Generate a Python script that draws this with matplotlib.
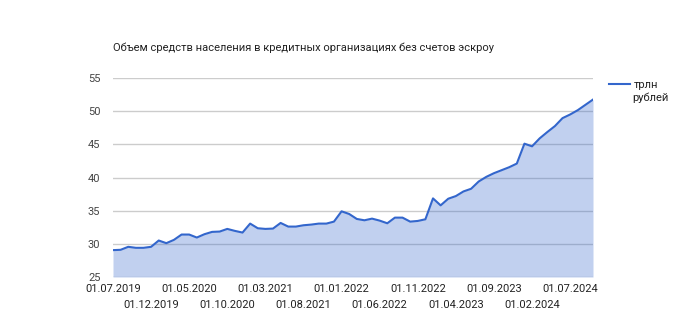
import matplotlib.pyplot as plt
from matplotlib.lines import Line2D

plt.rcParams['font.family'] = ['Roboto', 'DejaVu Sans']

# monthly values, 01.07.2019 .. 01.10.2024 (трлн рублей)
values = [29.05, 29.1, 29.55, 29.4, 29.4, 29.55, 30.5, 30.1, 30.6, 31.4,
          31.4, 30.95, 31.45, 31.8, 31.85, 32.25, 31.95, 31.7, 33.05, 32.35,
          32.25, 32.3, 33.15, 32.6, 32.6, 32.8, 32.9, 33.05, 33.05, 33.35,
          34.9, 34.5, 33.75, 33.55, 33.8, 33.5, 33.1, 33.95, 33.95, 33.35,
          33.45, 33.7, 36.85, 35.8, 36.8, 37.2, 37.9, 38.3, 39.4, 40.1,
          40.65, 41.1, 41.55, 42.1, 45.1, 44.7, 45.9, 46.85, 47.75, 48.95,
          49.5, 50.15, 50.95, 51.75]

dates = []
for i in range(len(values)):
    m = 7 + i
    y = 2019 + (m - 1) // 12
    m = (m - 1) % 12 + 1
    dates.append("01.%02d.%d" % (m, y))

yticks = [25, 30, 35, 40, 45, 50, 55]
title = "Объем средств населения в кредитных организациях без счетов эскроу"
line_c = '#3366cc'

fig = plt.figure(figsize=(7, 3.3), dpi=100)
ax = fig.add_axes([113/700, 1-277/330, 480/700, 199/330])

x = list(range(len(values)))
ax.fill_between(x, values, 25, color=line_c, alpha=0.3, lw=0, zorder=2)
ax.plot(x, values, color=line_c, lw=1.5, zorder=3)

ax.set_xlim(0, len(values) - 1)
ax.set_ylim(25, 55)
ax.set_yticks(yticks)
ax.set_yticklabels([str(v) for v in yticks])
ax.grid(axis='y', color='#cccccc', lw=1, zorder=1)
ax.set_axisbelow(True)

major = x[0::10]
minor = x[5::10]
ax.set_xticks(major)
ax.set_xticklabels([dates[i] for i in major])
ax.set_xticks(minor, minor=True)
ax.set_xticklabels([dates[i] for i in minor], minor=True)
ax.tick_params(axis='x', which='major', length=0, pad=5, labelsize=8, labelcolor='#222222')
ax.tick_params(axis='x', which='minor', length=0, pad=16.5, labelsize=8, labelcolor='#222222')
ax.tick_params(axis='y', length=0, pad=9, labelsize=8, labelcolor='#444444')
for s in ax.spines.values():
    s.set_visible(False)

fig.text(113/700, 1-48/330, title, fontsize=8, color='#222222', va='center', ha='left')

handle = Line2D([], [], color=line_c, lw=1.5)
fig.legend([handle], ['трлн'], loc='center left', bbox_to_anchor=(603/700, 1-85/330),
           frameon=False, borderpad=0, handlelength=1.9, handletextpad=0.4,
           fontsize=8, labelcolor='#222222')
fig.text(632/700, 1-98/330, 'рублей', fontsize=8, color='#222222', va='center', ha='left')

fig.savefig('out.png', dpi=100)
